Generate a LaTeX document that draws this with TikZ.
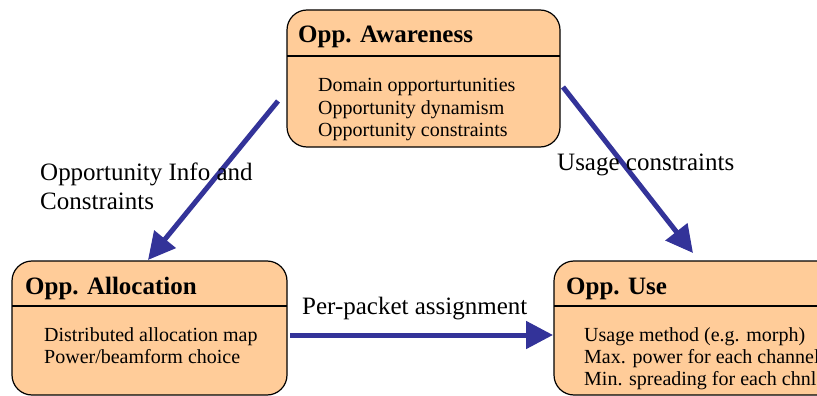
\documentclass[tikz,border=0pt]{standalone}
\usepackage{fontspec}
\setmainfont{Liberation Serif}
\usetikzlibrary{arrows.meta}
\definecolor{peach}{HTML}{FFCC99}
\definecolor{arrowblue}{HTML}{333399}
\tikzset{
  oppbox/.style={draw=black, line width=1.2pt, fill=peach, rounded corners=20pt},
  hdr/.style={anchor=base west, inner sep=0pt, font=\fontsize{25}{27}\selectfont\bfseries},
  body/.style={anchor=base west, inner sep=0pt, align=left, font=\fontsize{20}{22}\selectfont},
  lbl/.style={anchor=base west, inner sep=0pt, align=left, font=\fontsize{25}{29}\selectfont},
  conn/.style={draw=arrowblue, line width=5pt, -{Triangle[length=27pt,width=27pt]}},
}
\begin{document}
\begin{tikzpicture}[x=1pt,y=-1pt]
\useasboundingbox (0,0) rectangle (817,396);
\clip (0,0) rectangle (817,396);
\fill[white] (0,0) rectangle (817,396);
% boxes
\draw[oppbox] (287,10) rectangle (560,147);
\draw[line width=1.2pt] (287,56) -- (560,56);
\draw[oppbox] (12,261) rectangle (287,395);
\draw[line width=1.2pt] (12,306) -- (287,306);
\draw[oppbox] (554,261) rectangle (850,395);
\draw[line width=1.2pt] (554,306) -- (850,306);
% texts
\node[hdr] (awh) at (298,43) {Opp. Awareness};
\node[body] (aw1) at (318,92) {Domain opporturtunities};
\node[body] (aw2) at (318,114) {Opportunity dynamism};
\node[body] (aw3) at (318,136) {Opportunity constraints};
\node[hdr] (alh) at (25,294) {Opp. Allocation};
\node[body] (al1) at (44,341) {Distributed allocation map};
\node[body] (al2) at (44,363) {Power/beamform choice};
\node[hdr] (ush) at (566,294) {Opp. Use};
\node[body] (us1) at (584,341) {Usage method (e.g. morph)};
\node[body] (us2) at (584,363) {Max. power for each channel};
\node[body] (us3) at (584,385) {Min. spreading for each chnl};
% connector end points
\coordinate (a1s) at (278,101);
\coordinate (a1e) at (148,260);
\coordinate (a2s) at (563,87);
\coordinate (a2e) at (693,253);
\coordinate (a3s) at (290,335);
\coordinate (a3e) at (553,335);
\draw[conn] (a1s) -- (a1e);
\draw[conn] (a2s) -- (a2e);
\draw[conn] (a3s) -- (a3e);
% labels
\node[lbl] (l1) at (40,209) {Opportunity Info and\\Constraints};
\node[lbl] (l2) at (557,170) {Usage constraints};
\node[lbl] (l3) at (302,314) {Per-packet assignment};
\end{tikzpicture}
\end{document}
